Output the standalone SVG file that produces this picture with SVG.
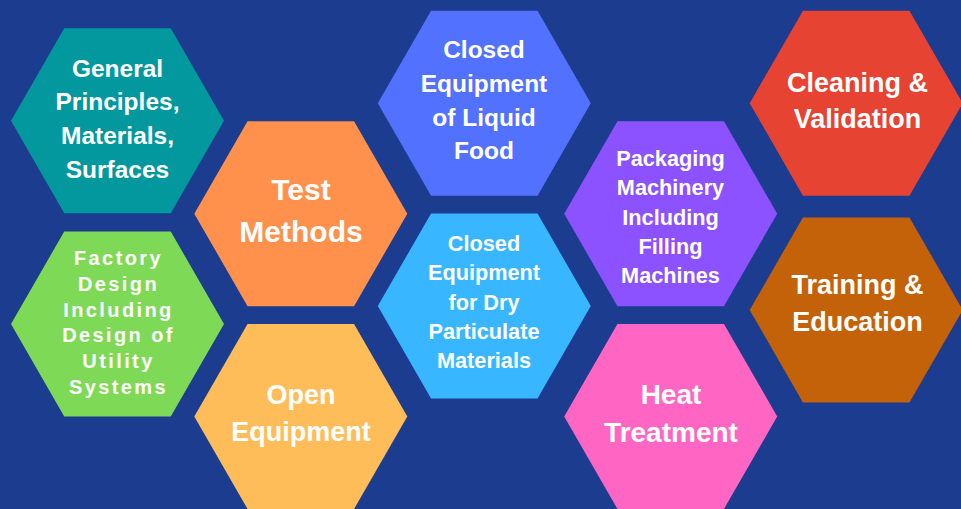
<svg xmlns="http://www.w3.org/2000/svg" xmlns:xlink="http://www.w3.org/1999/xlink" width="961" height="509" viewBox="0 0 961 509">
<defs>
<style>
text{font-family:"Liberation Sans",Arial,sans-serif;font-weight:bold;fill:#ffffff;text-anchor:middle}
.s24{font-size:24.5px}
.s30{font-size:30px}
.s27{font-size:27px}
.s28{font-size:28px}
.s22{font-size:21.7px}
.fd{font-size:20px;letter-spacing:2.4px}
</style>
<polygon id="hex" points="-106.5,0 -53.25,-92.5 53.25,-92.5 106.5,0 53.25,92.5 -53.25,92.5"/>
</defs>
<rect x="0" y="0" width="961" height="509" fill="#1b3c8f"/>
<g id="connectors"/>
<g id="general">
<use xlink:href="#hex" href="#hex" transform="translate(117.5,120.7)" fill="#03989e"/>
<text class="s24" x="117.5" y="76.5">General</text>
<text class="s24" x="117.5" y="110.2">Principles,</text>
<text class="s24" x="117.5" y="144">Materials,</text>
<text class="s24" x="117.5" y="177.7">Surfaces</text>
</g>
<g id="factory">
<use xlink:href="#hex" href="#hex" transform="translate(117.5,324)" fill="#7ed957"/>
<text class="fd" x="118.5" y="265">Factory</text>
<text class="fd" x="118.5" y="290.7">Design</text>
<text class="fd" x="118.5" y="316.5">Including</text>
<text class="fd" x="118.5" y="342.2">Design of</text>
<text class="fd" x="118.5" y="368">Utility</text>
<text class="fd" x="118.5" y="393.7">Systems</text>
</g>
<g id="test">
<use xlink:href="#hex" href="#hex" transform="translate(300.8,213.7)" fill="#ff914d"/>
<text class="s30" x="301" y="200">Test</text>
<text class="s30" x="301" y="241.7">Methods</text>
</g>
<g id="open">
<use xlink:href="#hex" href="#hex" transform="translate(300.8,416.5)" fill="#ffbd59"/>
<text class="s27" x="301" y="404">Open</text>
<text class="s27" x="301" y="440.7">Equipment</text>
</g>
<g id="liquid">
<use xlink:href="#hex" href="#hex" transform="translate(484.3,103.2)" fill="#5271ff"/>
<text class="s24" x="484" y="57.7">Closed</text>
<text class="s24" x="484" y="91.7">Equipment</text>
<text class="s24" x="484" y="125.5">of Liquid</text>
<text class="s24" x="484" y="159.3">Food</text>
</g>
<g id="dry">
<use xlink:href="#hex" href="#hex" transform="translate(484.3,306)" fill="#38b6ff"/>
<text class="s22" x="484" y="250.7">Closed</text>
<text class="s22" x="484" y="280">Equipment</text>
<text class="s22" x="484" y="309.5">for Dry</text>
<text class="s22" x="484" y="339">Particulate</text>
<text class="s22" x="484" y="368">Materials</text>
</g>
<g id="packaging">
<use xlink:href="#hex" href="#hex" transform="translate(670.7,213.7)" fill="#8c52ff"/>
<text class="s22" x="670.5" y="166">Packaging</text>
<text class="s22" x="670.5" y="195.3">Machinery</text>
<text class="s22" x="670.5" y="224.5">Including</text>
<text class="s22" x="670.5" y="253.7">Filling</text>
<text class="s22" x="670.5" y="282.8">Machines</text>
</g>
<g id="heat">
<use xlink:href="#hex" href="#hex" transform="translate(670.7,416.5)" fill="#ff66c4"/>
<text class="s28" x="671" y="404">Heat</text>
<text class="s28" x="671" y="441.7">Treatment</text>
</g>
<g id="cleaning">
<use xlink:href="#hex" href="#hex" transform="translate(856.2,103.2)" fill="#e64333"/>
<text class="s27" x="857.5" y="91.7">Cleaning &amp;</text>
<text class="s27" x="857.5" y="128.3">Validation</text>
</g>
<g id="training">
<use xlink:href="#hex" href="#hex" transform="translate(856.2,310)" fill="#c46209"/>
<text class="s27" x="857.5" y="294.3">Training &amp;</text>
<text class="s27" x="857.5" y="331">Education</text>
</g>
</svg>
